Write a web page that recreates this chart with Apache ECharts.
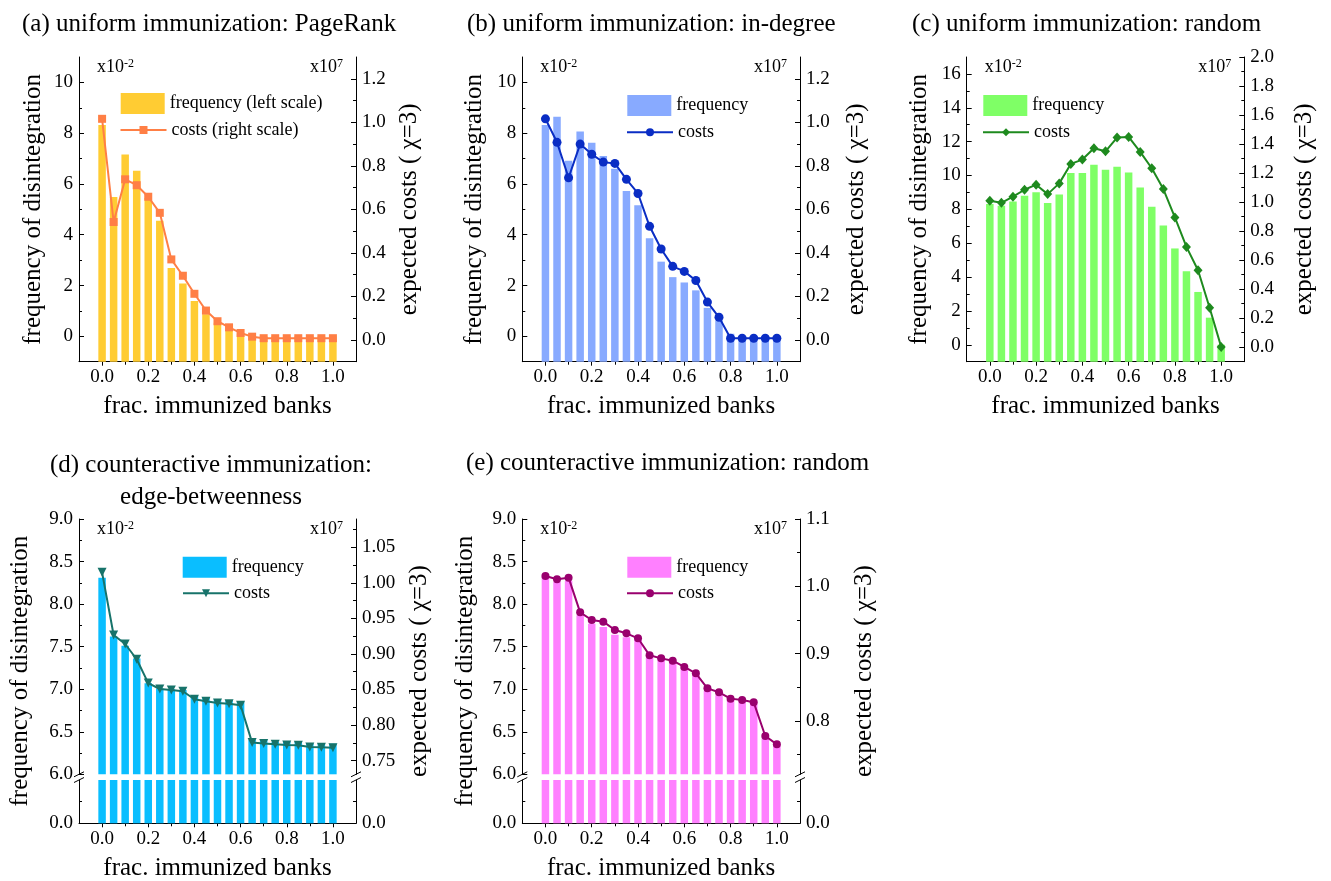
<!DOCTYPE html>
<html><head><meta charset="utf-8">
<script src="https://cdn.jsdelivr.net/npm/echarts@6/dist/echarts.min.js"></script>
<style>html,body{margin:0;padding:0;background:#fff}#c{width:1331px;height:881px}</style>
</head><body><div id="c"></div>
<script>
// ---------------- DATA ----------------
const xValues = [0.00,0.05,0.10,0.15,0.20,0.25,0.30,0.35,0.40,0.45,0.50,0.55,0.60,0.65,0.70,0.75,0.80,0.85,0.90,0.95,1.00];
const xTickLabels = [0.0,0.2,0.4,0.6,0.8,1.0];
const xMinorTicks = [0.1,0.3,0.5,0.7,0.9];

const freqA = [8.32,5.49,7.16,6.52,5.45,4.55,2.69,2.08,1.39,0.87,0.53,0.26,0.10,0.03,0,0,0,0,0,0,0];
const costA = [1.016,0.542,0.738,0.711,0.658,0.584,0.370,0.295,0.212,0.135,0.086,0.058,0.032,0.015,0.008,0.008,0.008,0.008,0.008,0.008,0.008];

const freqB = [8.32,8.65,6.91,8.07,7.62,7.10,6.60,5.72,5.16,3.86,2.94,2.33,2.12,1.81,1.12,0.63,0.10,0,0,0,0];
const costB = [1.016,0.908,0.745,0.900,0.853,0.817,0.811,0.738,0.673,0.522,0.418,0.338,0.315,0.273,0.174,0.104,0.008,0.008,0.008,0.008,0.008];

const freqC = [8.32,8.22,8.46,8.81,9.01,8.38,8.87,10.14,10.14,10.63,10.34,10.51,10.18,9.29,8.16,7.04,5.69,4.35,3.12,1.60,0];
const costC = [1.009,0.995,1.037,1.085,1.120,1.055,1.129,1.263,1.293,1.371,1.350,1.445,1.449,1.346,1.233,1.090,0.894,0.691,0.530,0.272,0.002];

const freqD = [8.31,7.62,7.51,7.36,7.07,7.01,7.00,6.99,6.92,6.90,6.88,6.87,6.85,6.41,6.40,6.38,6.38,6.38,6.36,6.36,6.36];
const costD = [1.0148,0.9267,0.914,0.8925,0.859,0.8507,0.8493,0.8475,0.8362,0.8334,0.8311,0.830,0.8278,0.7753,0.7739,0.7729,0.772,0.7715,0.7692,0.7687,0.7682];

const freqE = [8.32,8.26,8.27,7.87,7.77,7.73,7.64,7.61,7.58,7.37,7.34,7.31,7.25,7.17,6.98,6.93,6.87,6.85,6.83,6.42,6.34];
const costE = [1.0153,1.0104,1.0129,0.9614,0.950,0.9475,0.9351,0.9302,0.9228,0.8975,0.893,0.8896,0.8802,0.8708,0.8485,0.8426,0.8332,0.8312,0.8277,0.7777,0.7653];

const leftTicksAB = [0,2,4,6,8,10];
const leftMinorAB = [1,3,5,7,9];
const rightTicksAB = [0,0.2,0.4,0.6,0.8,1.0,1.2];
const rightMinorAB = [0.1,0.3,0.5,0.7,0.9,1.1];
const leftTicksC = [0,2,4,6,8,10,12,14,16];
const leftMinorC = [1,3,5,7,9,11,13,15];
const rightTicksC = [0,0.2,0.4,0.6,0.8,1.0,1.2,1.4,1.6,1.8,2.0];
const rightMinorC = [0.1,0.3,0.5,0.7,0.9,1.1,1.3,1.5,1.7,1.9];
const leftTicksDE = [6.0,6.5,7.0,7.5,8.0,8.5,9.0];
const leftMinorDE = [6.25,6.75,7.25,7.75,8.25,8.75];
const rightTicksD = [0.75,0.80,0.85,0.90,0.95,1.00,1.05];
const rightMinorD = [0.775,0.825,0.875,0.925,0.975,1.025,1.075];
const rightTicksE = [0.8,0.9,1.0,1.1];
const rightMinorE = [0.75,0.85,0.95,1.05];
const lowerTicks = [0];

const titles = {
  a: '(a) uniform immunization: PageRank',
  b: '(b) uniform immunization: in-degree',
  c: '(c) uniform immunization: random',
  d: '(d) counteractive immunization:\nedge-betweenness',
  e: '(e) counteractive immunization: random'
};
const xName = 'frac. immunized banks';
const yLeftName = 'frequency of disintegration';
const yRightName = 'expected costs ( \u03c7=3)';

// ---------------- STYLE / LAYOUT ----------------
const FONT = '"Liberation Serif", "Times New Roman", serif';
const option = {animation:false, backgroundColor:'#fff', title:[], grid:[], xAxis:[], yAxis:[], series:[], legend:[], graphic:[]};

function addGrid(l, t, r, b) {
  option.grid.push({left:l, top:t, width:r-l, height:b-t, containLabel:false, outerBoundsMode:'none'});
  return option.grid.length - 1;
}
function lineStyle() { return {color:'#000', width:1}; }
function addAxis(kind, gi, o) {
  const arr = kind === 'x' ? option.xAxis : option.yAxis;
  const base = {gridIndex:gi, type:'value', splitLine:{show:false}, splitArea:{show:false},
    axisLine:{show:true, onZero:false, lineStyle:lineStyle()},
    nameTextStyle:{fontFamily:FONT, fontSize:25, color:'#000'}};
  arr.push(Object.assign(base, o));
  return arr.length - 1;
}
function labelCfg(values, digits, margin) {
  return {show:true, customValues:values, formatter:(v)=>Number(v).toFixed(digits),
    fontFamily:FONT, fontSize:19, color:'#000', margin:margin};
}
function tickCfg(values, len, inside) {
  return {show:true, customValues:values, length:len, inside:inside, lineStyle:lineStyle()};
}
function minorAxis(kind, gi, pos, min, max, ticks, len, inside) {
  return addAxis(kind, gi, {position:pos, min:min, max:max, axisLine:{show:false, onZero:false},
    axisLabel:{show:false}, axisTick:tickCfg(ticks, len, inside)});
}
function barRender(base, bw, color) {
  return function(params, api) {
    const x = api.value(0), v = api.value(1);
    const cs = params.coordSys;
    const pTop = api.coord([x, v]);
    const pBase = api.coord([x, base]);
    const yTop = Math.max(Math.min(pTop[1], pBase[1]), cs.y);
    const yBot = Math.min(pBase[1], cs.y + cs.height);
    return {type:'rect', shape:{x:pTop[0]-bw/2, y:yTop, width:bw, height:Math.max(0, yBot-yTop)}, style:{fill:color}};
  };
}
function addBars(name, xi, yi, freq, base, color) {
  option.series.push({type:'custom', name:name, xAxisIndex:xi, yAxisIndex:yi, z:1,
    itemStyle:{color:color},
    data: xValues.map((x,i)=>[x, freq[i]]), renderItem: barRender(base, 7.5, color)});
}
function addLine(name, xi, yi, cost, p) {
  option.series.push({type:'line', name:name, xAxisIndex:xi, yAxisIndex:yi, z:3,
    symbol:p.symbol, symbolSize:p.symbolSize, symbolRotate:p.symbolRotate || 0, showAllSymbol:true,
    lineStyle:{color:p.lineColor, width:2}, itemStyle:{color:p.lineColor},
    data: xValues.map((x,i)=>[x, cost[i]])});
}
function addLegend(p, barName, lineName) {
  const ts = {fontFamily:FONT, fontSize:18, color:'#000'};
  const fmt = (n)=>n.split('|')[1];
  option.legend.push({left:p.legBar[0], top:p.legBar[1], padding:0, itemWidth:44, itemHeight:21,
    selectedMode:false, formatter:fmt, textStyle:ts,
    data:[{name:barName, icon:'rect', itemStyle:{color:p.barColor}}]});
  option.legend.push({left:p.legLine[0], top:p.legLine[1], padding:0, itemWidth:46, itemHeight:p.legH || 10,
    selectedMode:false, formatter:fmt, textStyle:ts, data:[{name:lineName}]});
}
function addExpLabels(l, t, r) {
  const rich = {a:{fontFamily:FONT, fontSize:18, fill:'#000'}, b:{fontFamily:FONT, fontSize:12, fill:'#000', verticalAlign:'top'}};
  option.graphic.push({type:'text', x:l+18, y:t+1, style:{text:'{a|x10}{b|-2}', rich:rich, align:'left', verticalAlign:'top'}});
  option.graphic.push({type:'text', x:r-13, y:t+1, style:{text:'{a|x10}{b|7}', rich:rich, align:'right', verticalAlign:'top'}});
}
function addTitle(text, left, top, align) {
  option.title.push({text:text, left:left, top:top, padding:0, textAlign:align || 'left',
    textStyle:{fontFamily:FONT, fontSize:25, fontWeight:'normal', color:'#000', lineHeight:32}});
}

function simplePanel(p) {
  const [l,t,r,b] = p.rect;
  const gi = addGrid(l,t,r,b);
  const xi = addAxis('x', gi, {position:'bottom', min:-0.1, max:1.1,
    axisLabel:labelCfg(xTickLabels, 1, 6), axisTick:tickCfg(xTickLabels, 4, false),
    name:xName, nameLocation:'middle', nameGap:p.xGap});
  minorAxis('x', gi, 'bottom', -0.1, 1.1, xMinorTicks, 3, false);
  const yl = addAxis('y', gi, {position:'left', min:p.lMin, max:p.lMax,
    axisLabel:labelCfg(p.lTicks, 0, 6), axisTick:tickCfg(p.lTicks, 5, true),
    name:yLeftName, nameLocation:'middle', nameRotate:90, nameGap:p.lGap});
  minorAxis('y', gi, 'left', p.lMin, p.lMax, p.lMinor, 3, true);
  const yr = addAxis('y', gi, {position:'right', min:p.rMin, max:p.rMax,
    axisLabel:labelCfg(p.rTicks, 1, 6), axisTick:tickCfg(p.rTicks, 5, true),
    name:yRightName, nameLocation:'middle', nameRotate:90, nameGap:p.rGap});
  minorAxis('y', gi, 'right', p.rMin, p.rMax, p.rMinor, 3, true);
  addBars(p.barName, xi, yl, p.freq, p.lMin, p.barColor);
  addLine(p.lineName, xi, yr, p.cost, p);
  addLegend(p, p.barName, p.lineName);
  addExpLabels(l, t, r);
}

function brokenPanel(p) {
  const [l,t,bt,bb,r,b] = p.rect;
  // upper part
  const gU = addGrid(l,t,r,bt);
  const xU = addAxis('x', gU, {show:false, min:-0.1, max:1.1});
  const ylU = addAxis('y', gU, {position:'left', min:6, max:9,
    axisLabel:labelCfg(leftTicksDE, 1, 6), axisTick:tickCfg(leftTicksDE, 5, true)});
  minorAxis('y', gU, 'left', 6, 9, leftMinorDE, 3, true);
  const yrU = addAxis('y', gU, {position:'right', min:p.rMin, max:p.rMax,
    axisLabel:labelCfg(p.rTicks, p.rDigits, 6), axisTick:tickCfg(p.rTicks, 5, true)});
  minorAxis('y', gU, 'right', p.rMin, p.rMax, p.rMinor, 3, true);
  // lower part
  const gL = addGrid(l,bb,r,b);
  const xL = addAxis('x', gL, {position:'bottom', min:-0.1, max:1.1,
    axisLabel:labelCfg(xTickLabels, 1, 6), axisTick:tickCfg(xTickLabels, 4, false),
    name:xName, nameLocation:'middle', nameGap:p.xGap});
  minorAxis('x', gL, 'bottom', -0.1, 1.1, xMinorTicks, 3, false);
  const ylL = addAxis('y', gL, {position:'left', min:0, max:6,
    axisLabel:labelCfg(lowerTicks, 1, 6), axisTick:tickCfg(lowerTicks, 5, true)});
  minorAxis('y', gL, 'left', 0, 6, [3], 3, true);
  addAxis('y', gL, {position:'right', min:0, max:p.rMin,
    axisLabel:labelCfg(lowerTicks, 1, 6), axisTick:tickCfg(lowerTicks, 5, true)});
  minorAxis('y', gL, 'right', 0, p.rMin, [p.rMin/2], 3, true);
  // full-height grid for axis names only
  const gF = addGrid(l,t,r,b);
  addAxis('x', gF, {show:false, min:-0.1, max:1.1});
  const hidden = {axisLine:{show:false, onZero:false}, axisTick:{show:false}, axisLabel:{show:false}};
  addAxis('y', gF, Object.assign({position:'left', min:0, max:1, name:yLeftName, nameLocation:'middle', nameRotate:90, nameGap:p.lGap}, hidden));
  addAxis('y', gF, Object.assign({position:'right', min:0, max:1, name:yRightName, nameLocation:'middle', nameRotate:90, nameGap:p.rGap}, hidden));

  addBars(p.barName, xU, ylU, p.freq, 6, p.barColor);
  addBars(p.barName, xL, ylL, p.freq, 0, p.barColor);
  addLine(p.lineName, xU, yrU, p.cost, p);
  addLegend(p, p.barName, p.lineName);
  addExpLabels(l, t, r);
  // break marks
  [l, r].forEach(x => {
    [bt, bb].forEach(y => {
      option.graphic.push({type:'line', shape:{x1:x-5, y1:y+2.5, x2:x+5, y2:y-2.5}, style:{stroke:'#000', lineWidth:1}});
    });
  });
}

simplePanel({rect:[79,57,356,361.7], lMin:-1, lMax:11, lTicks:leftTicksAB, lMinor:leftMinorAB,
  rMin:-0.1, rMax:1.3, rTicks:rightTicksAB, rMinor:rightMinorAB, freq:freqA, cost:costA,
  barColor:'#FFCC33', lineColor:'#FF7F45', symbol:'rect', symbolSize:8,
  barName:'a|frequency (left scale)', lineName:'a|costs (right scale)',
  legBar:[120.7,93], legLine:[119.5,121], xGap:32, lGap:33, rGap:41});
simplePanel({rect:[522.3,57,800,361.7], lMin:-1, lMax:11, lTicks:leftTicksAB, lMinor:leftMinorAB,
  rMin:-0.1, rMax:1.3, rTicks:rightTicksAB, rMinor:rightMinorAB, freq:freqB, cost:costB,
  barColor:'#88AAFF', lineColor:'#0A2DC4', symbol:'circle', symbolSize:9,
  barName:'b|frequency', lineName:'b|costs',
  legBar:[627.3,95], legLine:[626,123.3], xGap:32, lGap:35, rGap:44});
simplePanel({rect:[966.7,57,1244.3,361.7], lMin:-1, lMax:17, lTicks:leftTicksC, lMinor:leftMinorC,
  rMin:-0.1, rMax:2.0, rTicks:rightTicksC, rMinor:rightMinorC, freq:freqC, cost:costC,
  barColor:'#7FFF66', lineColor:'#1E8A1E', symbol:'diamond', symbolSize:[9,10],
  barName:'c|frequency', lineName:'c|costs',
  legBar:[983.3,95], legLine:[982,123.3], xGap:32, lGap:35, rGap:48});
brokenPanel({rect:[79,519,774.3,780,356,823.3], rMin:0.7307, rMax:1.0898, rTicks:rightTicksD, rMinor:rightMinorD, rDigits:2,
  freq:freqD, cost:costD, barColor:'#0ABEFF', lineColor:'#17736A', symbol:'triangle', symbolRotate:180, symbolSize:9,
  barName:'d|frequency', lineName:'d|costs', legBar:[182.7,556.7], legLine:[182,584.3], xGap:33, lGap:46, rGap:51});
brokenPanel({rect:[522.3,519,774.3,780,800,823.3], rMin:0.7208, rMax:1.1, rTicks:rightTicksE, rMinor:rightMinorE, rDigits:1,
  freq:freqE, cost:costE, barColor:'#FF80FF', lineColor:'#99006E', symbol:'circle', symbolSize:8,
  barName:'e|frequency', lineName:'e|costs', legBar:[627.3,556.7], legLine:[626,584.3], xGap:33, lGap:44, rGap:52});

addTitle(titles.a, 22, 8);
addTitle(titles.b, 467, 8);
addTitle(titles.c, 912, 8);
addTitle(titles.d, 211, 449, 'center');
addTitle(titles.e, 466, 447);

const chart = echarts.init(document.getElementById('c'), null, {renderer:'canvas'});
chart.setOption(option);
</script></body></html>
